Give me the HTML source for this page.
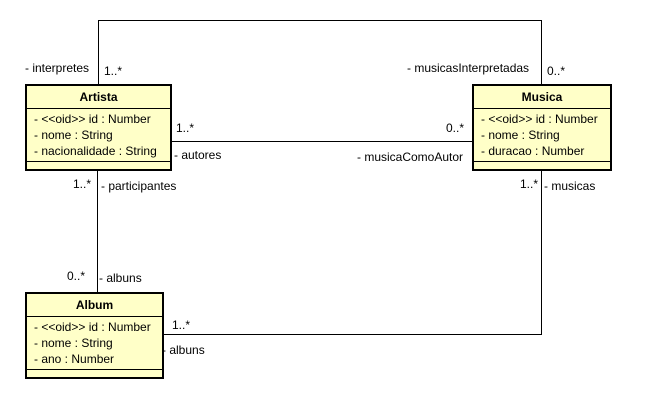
<!DOCTYPE html>
<html><head><style>
body{margin:0;background:#fff;width:646px;height:410px;position:relative;overflow:hidden;font-family:"Liberation Sans",sans-serif;font-size:12px;color:#000}
.b{position:absolute;background:#ffffc8;border:2px solid #000;box-sizing:border-box}
.b .h{height:22px;line-height:22px;text-align:center;font-weight:bold;border-bottom:1px solid #000}
.b .a{padding:2px 0 0 7px;line-height:16px;height:53px;box-sizing:border-box;border-bottom:1px solid #000}
.t{position:absolute;white-space:nowrap;line-height:14px}
</style></head><body>
<svg width="646" height="410" style="position:absolute;left:0;top:0">
<g stroke="#000" stroke-width="1" fill="none">
<polyline points="98.5,84 98.5,20.5 541.5,20.5 541.5,84"/>
<line x1="171" y1="141.5" x2="472" y2="141.5"/>
<line x1="97.5" y1="170" x2="97.5" y2="292"/>
<polyline points="163,334.5 541.5,334.5 541.5,170"/>
</g></svg>
<div class="b" style="left:25px;top:84px;width:147px;height:87px"><div class="h">Artista</div><div class="a">- &lt;&lt;oid&gt;&gt; id : Number<br>- nome : String<br>- nacionalidade : String</div></div>
<div class="b" style="left:472px;top:84px;width:140px;height:87px"><div class="h">Musica</div><div class="a">- &lt;&lt;oid&gt;&gt; id : Number<br>- nome : String<br>- duracao : Number</div></div>
<div class="b" style="left:25px;top:292px;width:139px;height:87px"><div class="h">Album</div><div class="a">- &lt;&lt;oid&gt;&gt; id : Number<br>- nome : String<br>- ano : Number</div></div>
<div class="t" style="left:25px;top:61px">- interpretes</div>
<div class="t" style="left:104px;top:64px">1..*</div>
<div class="t" style="left:407px;top:61px">- musicasInterpretadas</div>
<div class="t" style="left:547px;top:64px">0..*</div>
<div class="t" style="left:176px;top:121px">1..*</div>
<div class="t" style="left:174px;top:148px">- autores</div>
<div class="t" style="left:446px;top:121px">0..*</div>
<div class="t" style="left:357px;top:150px">- musicaComoAutor</div>
<div class="t" style="left:73px;top:177px">1..*</div>
<div class="t" style="left:101px;top:179px">- participantes</div>
<div class="t" style="left:520px;top:177px">1..*</div>
<div class="t" style="left:544px;top:179px">- musicas</div>
<div class="t" style="left:67px;top:269px">0..*</div>
<div class="t" style="left:99px;top:271px">- albuns</div>
<div class="t" style="left:172px;top:318px">1..*</div>
<div class="t" style="left:162px;top:343px">- albuns</div>
</body></html>
